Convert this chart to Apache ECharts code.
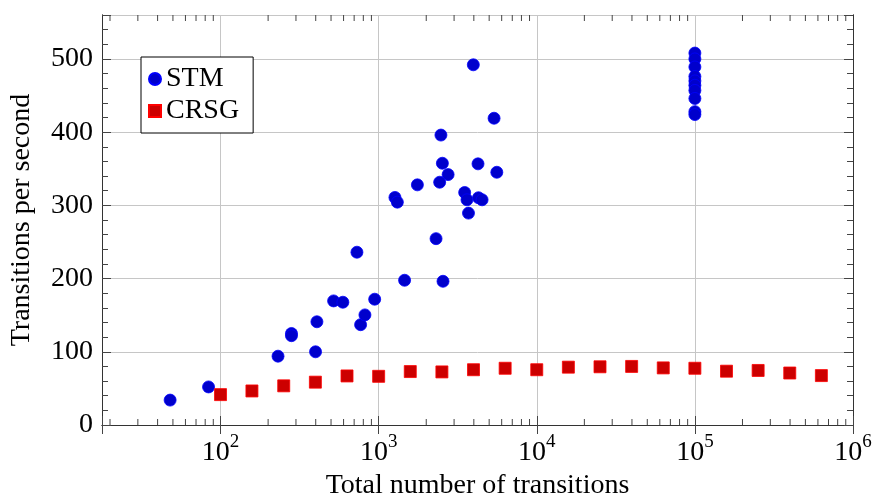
<!DOCTYPE html>
<html><head><meta charset="utf-8">
<script src="https://cdn.jsdelivr.net/npm/echarts@6/dist/echarts.min.js"></script>
<style>html,body{margin:0;padding:0;background:#fff}#c{width:872px;height:495px}</style>
</head><body><div id="c"></div>
<script>
// ---- data ----
const stmX = [48, 84, 231, 281, 281, 399, 407, 519, 594, 729, 769, 819, 944,
  3970, 5370, 2477, 2530, 4250, 2750, 2432, 5590, 1758, 1268, 1313, 3500, 3620,
  4280, 4510, 3700, 2307, 1459, 2553,
  100000, 100000, 100000, 100000, 100000, 100000, 100000, 100000, 100000, 100000];
const stmY = [34, 52, 94, 125, 122, 100, 141, 169.5, 167.7, 236, 137, 150.4, 171.8,
  492, 419, 396, 357.5, 356.7, 342, 331.6, 345.2, 328, 310.8, 304.4, 317.6, 307.6,
  310.4, 307.6, 289.4, 254.5, 197.7, 196.3,
  508, 500, 489, 476, 470, 464, 457, 446, 428, 424];
const crsgX = [100, 158, 251, 398, 631, 1000, 1585, 2512, 3981, 6310, 10000, 15849,
  25119, 39811, 63096, 100000, 158489, 251189, 398107, 630957];
const crsgY = [41.5, 46.5, 53.5, 58.5, 67, 66.5, 73, 72.5, 75.5, 77.5, 75.5, 79,
  79.5, 80, 78, 77.5, 73.5, 74.5, 71, 67.5];
const seriesNames = ['STM', 'CRSG'];
const xMin = 17.8, xMax = 1e6;
const yMin = 0, yMax = 560, yMajor = 100, yMinor = 20;
const xDecades = [1, 2, 3, 4, 5];
const xName = 'Total number of transitions';
const yName = 'Transitions per second';

// minor tick positions on the log axis (2..9 x 10^k)
const minorX = [];
xDecades.forEach(d => { for (let m = 2; m <= 9; m++) { const v = m * Math.pow(10, d); if (v > xMin && v < xMax) minorX.push(v); } });

const FONT = 'Liberation Serif';
const AX = '#333';
const TK = '#444';
const GRID = '#c6c6c6';

function xLabel(v) {
  const e = Math.log10(v), r = Math.round(e);
  if (Math.abs(e - r) > 1e-6) return '';
  return '{b|10}{s|' + r + '}';
}

const chart = echarts.init(document.getElementById('c'), null, {renderer: 'canvas'});
const baseX = {
  type: 'log', logBase: 10, min: xMin, max: xMax, gridIndex: 0,
  axisLine: {show: true, lineStyle: {color: AX, width: 1}},
  axisTick: {show: true, inside: true, length: 9, lineStyle: {color: TK}},
  minorTick: {show: false},
};
const baseY = {
  type: 'value', min: yMin, max: yMax, gridIndex: 0,
  axisLine: {show: true, lineStyle: {color: AX, width: 1}},
  splitLine: {show: false},
  axisLabel: {show: false},
};
chart.setOption({
  animation: false,
  textStyle: {fontFamily: FONT},
  grid: {left: 102, right: 19, top: 15, bottom: 70, containLabel: false, outerBoundsMode: 'none'},
  legend: {
    orient: 'vertical', left: 141, top: 57,
    data: [{name: 'STM', icon: 'circle'}, {name: 'CRSG', icon: 'rect'}],
    itemWidth: 12, itemHeight: 12, itemGap: 4,
    padding: [8, 14, 8, 7],
    borderColor: '#000', borderWidth: 1, borderRadius: 0, backgroundColor: '#fff',
    textStyle: {fontFamily: FONT, fontSize: 28, color: '#000'},
    selectedMode: false
  },
  xAxis: [
    Object.assign({}, baseX, {
      position: 'bottom',
      splitLine: {show: true, lineStyle: {color: GRID, width: 1}},
      axisLabel: {
        show: true, margin: 8, formatter: xLabel, color: '#000',
        rich: {
          b: {fontFamily: FONT, fontSize: 28, color: '#000'},
          s: {fontFamily: FONT, fontSize: 19, color: '#000', padding: [0, 0, 20, 0]}
        }
      },
      name: xName, nameLocation: 'middle', nameGap: 44,
      nameTextStyle: {fontFamily: FONT, fontSize: 28, color: '#000'}
    }),
    Object.assign({}, baseX, {
      position: 'top', splitLine: {show: false}, axisLabel: {show: false}
    })
  ],
  yAxis: [
    Object.assign({}, baseY, {
      position: 'left', interval: yMajor,
      axisTick: {show: true, inside: true, length: 9, lineStyle: {color: TK}},
      splitLine: {show: true, lineStyle: {color: GRID, width: 1}},
      axisLabel: {show: true, margin: 9, color: '#000', fontFamily: FONT, fontSize: 28,
        formatter: v => (v % yMajor === 0 ? String(v) : '')},
      name: yName, nameLocation: 'middle', nameRotate: 90, nameGap: 66,
      nameTextStyle: {fontFamily: FONT, fontSize: 28, color: '#000'}
    }),
    Object.assign({}, baseY, {
      position: 'left', interval: yMinor,
      axisTick: {show: true, inside: true, length: 6, lineStyle: {color: TK}}
    }),
    Object.assign({}, baseY, {
      position: 'right', interval: yMajor,
      axisTick: {show: true, inside: true, length: 9, lineStyle: {color: TK}}
    }),
    Object.assign({}, baseY, {
      position: 'right', interval: yMinor,
      axisTick: {show: true, inside: true, length: 6, lineStyle: {color: TK}}
    })
  ],
  series: [
    {
      type: 'custom', name: 'minorTicks', xAxisIndex: 0, yAxisIndex: 0, silent: true,
      clip: false, z: 1,
      data: minorX.map(v => [v, 0]),
      renderItem: function (params, api) {
        const x = api.coord([api.value(0), 0])[0];
        const cs = params.coordSys;
        const st = {stroke: TK, lineWidth: 1};
        return {type: 'group', children: [
          {type: 'line', shape: {x1: x, y1: cs.y + cs.height, x2: x, y2: cs.y + cs.height - 6}, style: st},
          {type: 'line', shape: {x1: x, y1: cs.y, x2: x, y2: cs.y + 6}, style: st}
        ]};
      }
    },
    {
      type: 'scatter', name: seriesNames[0], xAxisIndex: 0, yAxisIndex: 0,
      symbol: 'circle', symbolSize: 12, z: 3,
      itemStyle: {color: '#0000cc', borderColor: '#0000ff', borderWidth: 0.8, opacity: 1},
      data: stmX.map((x, i) => [x, stmY[i]])
    },
    {
      type: 'scatter', name: seriesNames[1], xAxisIndex: 0, yAxisIndex: 0,
      symbol: 'rect', symbolSize: 12, z: 4,
      itemStyle: {color: '#cc0000', borderColor: '#ff0000', borderWidth: 0.8, opacity: 1},
      data: crsgX.map((x, i) => [x, crsgY[i]])
    }
  ]
});
</script></body></html>
